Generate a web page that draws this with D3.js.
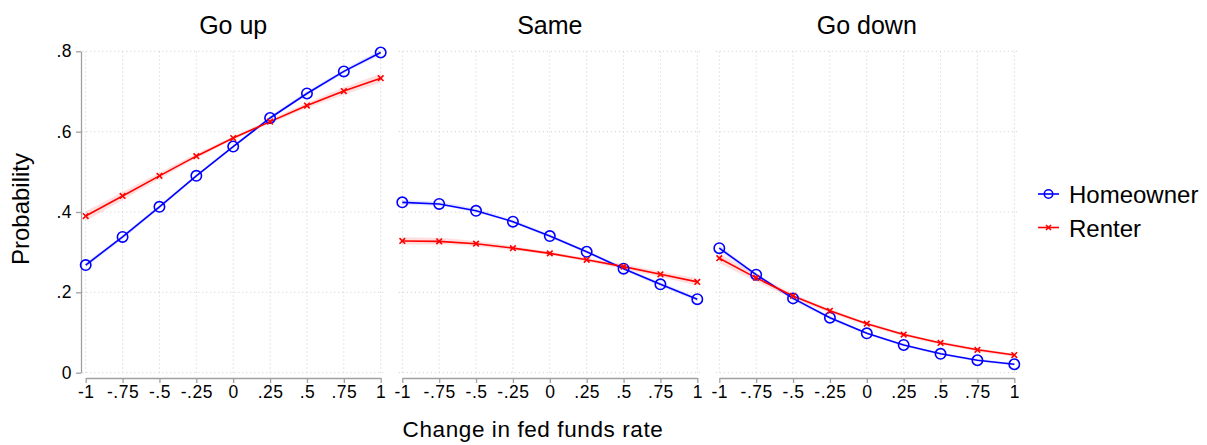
<!DOCTYPE html>
<html>
<head>
<meta charset="utf-8">
<script src="https://cdn.jsdelivr.net/npm/d3@7"></script>
<style>
  body { margin: 0; background: #fff; }
  text { font-family: "Liberation Sans", Arial, sans-serif; fill: #000; }
</style>
</head>
<body>
<svg id="chart" width="1207" height="445"></svg>
<script>
// values
var xValues = [-1, -0.75, -0.5, -0.25, 0, 0.25, 0.5, 0.75, 1];
var yTicks = [0, 0.2, 0.4, 0.6, 0.8];
var panelTitles = ["Go up", "Same", "Go down"];
var seriesNames = ["Homeowner", "Renter"];

var upHome   = [0.268, 0.338, 0.413, 0.490, 0.563, 0.634, 0.695, 0.750, 0.797];
var upRent   = [0.390, 0.440, 0.490, 0.539, 0.584, 0.625, 0.665, 0.701, 0.733];
var sameHome = [0.424, 0.420, 0.403, 0.376, 0.340, 0.301, 0.259, 0.220, 0.183];
var sameRent = [0.328, 0.327, 0.321, 0.310, 0.297, 0.281, 0.264, 0.245, 0.226];
var downHome = [0.310, 0.244, 0.185, 0.137, 0.098, 0.069, 0.047, 0.031, 0.021];
var downRent = [0.285, 0.236, 0.191, 0.154, 0.122, 0.095, 0.074, 0.057, 0.044];

// half widths of the confidence bands
var upHomeCi   = [0.006, 0.005, 0.005, 0.004, 0.004, 0.004, 0.005, 0.005, 0.006];
var upRentCi   = [0.012, 0.010, 0.008, 0.006, 0.004, 0.005, 0.007, 0.009, 0.011];
var sameHomeCi = [0.006, 0.005, 0.005, 0.004, 0.004, 0.004, 0.004, 0.005, 0.005];
var sameRentCi = [0.009, 0.008, 0.006, 0.005, 0.004, 0.004, 0.006, 0.007, 0.009];
var downHomeCi = [0.007, 0.005, 0.004, 0.004, 0.003, 0.003, 0.003, 0.003, 0.003];
var downRentCi = [0.012, 0.009, 0.006, 0.005, 0.004, 0.004, 0.004, 0.004, 0.004];

var panels = [
  { home: upHome, rent: upRent, homeCi: upHomeCi, rentCi: upRentCi },
  { home: sameHome, rent: sameRent, homeCi: sameHomeCi, rentCi: sameRentCi },
  { home: downHome, rent: downRent, homeCi: downHomeCi, rentCi: downRentCi }
];

var blue = "#0000ff", red = "#ff0000";
var panel_left = [85.7, 402.3, 719.3];
var panel_w = 295;

var svg = d3.select("#chart");

var y = d3.scaleLinear().domain([0, 0.8]).range([372.7, 51.3]);

function fmt(v) {
  if (v === 0) return "0";
  return String(v).replace("0.", ".");
}

panels.forEach(function(p, i) {
  var x = d3.scaleLinear().domain([-1, 1]).range([panel_left[i], panel_left[i] + panel_w]);
  var g = svg.append("g");

  // grid
  g.selectAll(".hgrid").data(yTicks).enter().append("line")
    .attr("x1", x(-1) - 3.5).attr("x2", x(1) + 3.5)
    .attr("y1", function(d) { return y(d); }).attr("y2", function(d) { return y(d); })
    .attr("stroke", "#d4d4d4").attr("stroke-width", 1).attr("stroke-dasharray", "1.2,2.8");
  g.selectAll(".vgrid").data(xValues).enter().append("line")
    .attr("x1", function(d) { return x(d); }).attr("x2", function(d) { return x(d); })
    .attr("y1", y(0)).attr("y2", y(0.8) - 1)
    .attr("stroke", "#d4d4d4").attr("stroke-width", 1).attr("stroke-dasharray", "1.2,2.8");

  // x axis
  var xa = g.append("g")
    .attr("transform", "translate(0,378)")
    .call(d3.axisBottom(x).tickValues(xValues).tickFormat(fmt).tickSize(5).tickSizeOuter(0).tickPadding(3));
  xa.selectAll("path,line").attr("stroke", "#a0a0a0").attr("stroke-width", 1.3);
  xa.selectAll("text").attr("font-size", 17.5).attr("letter-spacing", "0.5px")
    .attr("font-family", "Liberation Sans, Arial, sans-serif").attr("fill", "#000");

  if (i === 0) {
    var ya = g.append("g")
      .attr("transform", "translate(81,0)")
      .call(d3.axisLeft(y).tickValues(yTicks).tickFormat(fmt).tickSize(5).tickSizeOuter(0).tickPadding(4));
    ya.selectAll("path,line").attr("stroke", "#a0a0a0").attr("stroke-width", 1.3);
    ya.selectAll("text").attr("font-size", 17.5).attr("letter-spacing", "0.5px")
      .attr("font-family", "Liberation Sans, Arial, sans-serif").attr("fill", "#000");
  }

  // confidence bands
  var band = d3.area()
    .x(function(d) { return x(d.x); })
    .y0(function(d) { return y(d.v - d.ci); })
    .y1(function(d) { return y(d.v + d.ci); })
    .curve(d3.curveMonotoneX);
  var homeRows = xValues.map(function(v, k) { return { x: v, v: p.home[k], ci: p.homeCi[k] }; });
  var rentRows = xValues.map(function(v, k) { return { x: v, v: p.rent[k], ci: p.rentCi[k] }; });

  g.append("path").datum(homeRows).attr("d", band).attr("fill", blue).attr("fill-opacity", 0.1);
  g.append("path").datum(rentRows).attr("d", band).attr("fill", red).attr("fill-opacity", 0.13);

  var line = d3.line().x(function(d) { return x(d.x); }).y(function(d) { return y(d.v); });

  g.append("path").datum(homeRows).attr("d", line)
    .attr("fill", "none").attr("stroke", blue).attr("stroke-width", 1.6);
  g.append("path").datum(rentRows).attr("d", line)
    .attr("fill", "none").attr("stroke", red).attr("stroke-width", 1.6);

  g.selectAll(".hm").data(homeRows).enter().append("circle")
    .attr("cx", function(d) { return x(d.x); }).attr("cy", function(d) { return y(d.v); })
    .attr("r", 5.2).attr("fill", "none").attr("stroke", blue).attr("stroke-width", 1.6);
  g.selectAll(".rm").data(rentRows).enter().append("path")
    .attr("transform", function(d) { return "translate(" + x(d.x) + "," + y(d.v) + ")"; })
    .attr("d", "M-2.8,-2.8L2.8,2.8M-2.8,2.8L2.8,-2.8")
    .attr("stroke", red).attr("stroke-width", 1.6);

  // panel title
  g.append("text")
    .attr("x", x(0)).attr("y", 34)
    .attr("text-anchor", "middle").attr("font-size", 25)
    .text(panelTitles[i]);
});

// axis titles
svg.append("text")
  .attr("x", 533).attr("y", 437)
  .attr("text-anchor", "middle").attr("font-size", 22.5).attr("letter-spacing", "0.6px")
  .text("Change in fed funds rate");

svg.append("text")
  .attr("transform", "translate(28.5,209) rotate(-90)")
  .attr("text-anchor", "middle").attr("font-size", 24)
  .text("Probability");

// legend
var legend = svg.append("g");
var legY = [194, 227.5];
legend.selectAll(".legline").data(seriesNames).enter().append("line")
  .attr("x1", 1038).attr("x2", 1059)
  .attr("y1", function(d, k) { return legY[k]; }).attr("y2", function(d, k) { return legY[k]; })
  .attr("stroke", function(d, k) { return k === 0 ? blue : red; }).attr("stroke-width", 1.6);
legend.append("circle").attr("cx", 1048.5).attr("cy", legY[0]).attr("r", 4.2)
  .attr("fill", "none").attr("stroke", blue).attr("stroke-width", 1.6);
legend.append("path")
  .attr("transform", "translate(1048.5," + legY[1] + ")")
  .attr("d", "M-2.5,-2.5L2.5,2.5M-2.5,2.5L2.5,-2.5")
  .attr("stroke", red).attr("stroke-width", 1.6);
legend.selectAll(".legtext").data(seriesNames).enter().append("text")
  .attr("x", 1069).attr("y", function(d, k) { return legY[k] + 9; })
  .attr("font-size", 24)
  .text(function(d) { return d; });
</script>
</body>
</html>
